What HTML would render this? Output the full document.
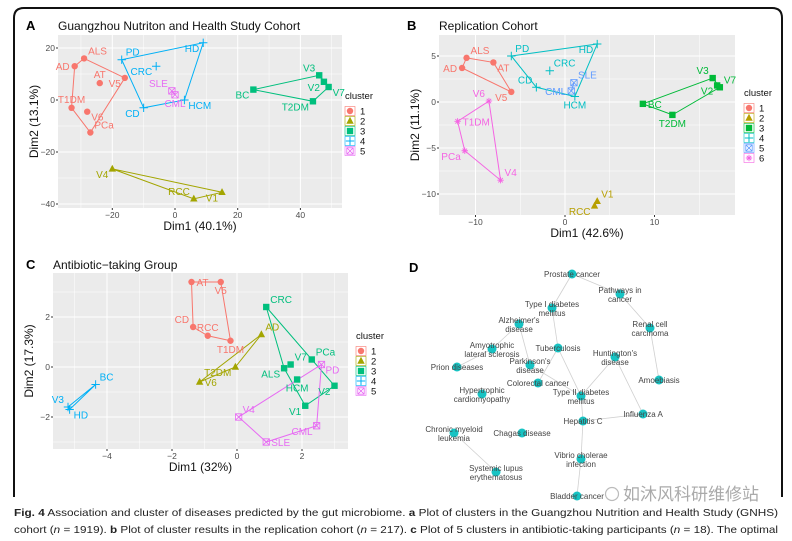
<!DOCTYPE html>
<html><head><meta charset="utf-8"><style>
html,body{margin:0;padding:0;background:#fff;}
svg{display:block;font-family:"Liberation Sans","Noto Sans CJK SC",sans-serif;}
</style></head><body>
<svg id="fig" width="792" height="541" viewBox="0 0 792 541" xmlns="http://www.w3.org/2000/svg">
<path d="M14,497 L14,18 Q14,8 24,8 L772,8 Q782,8 782,18 L782,497" fill="none" stroke="#111" stroke-width="2"/>
<g id="root"></g>
<g>
<circle cx="612" cy="494" r="6.5" fill="none" stroke="#bbb" stroke-width="1.2"/>
<text x="623" y="500" font-size="17" fill="#aaa" font-family="'Noto Sans CJK SC',sans-serif">如沐风科研维修站</text>
</g>
<text x="14" y="516" font-size="10.5" fill="#222" textLength="764" lengthAdjust="spacingAndGlyphs"><tspan font-weight="bold">Fig. 4</tspan> Association and cluster of diseases predicted by the gut microbiome. <tspan font-weight="bold">a</tspan> Plot of clusters in the Guangzhou Nutrition and Health Study (GNHS)</text>
<text x="14" y="533" font-size="10.5" fill="#222" textLength="764" lengthAdjust="spacingAndGlyphs">cohort (<tspan font-style="italic">n</tspan> = 1919). <tspan font-weight="bold">b</tspan> Plot of cluster results in the replication cohort (<tspan font-style="italic">n</tspan> = 217). <tspan font-weight="bold">c</tspan> Plot of 5 clusters in antibiotic-taking participants (<tspan font-style="italic">n</tspan> = 18). The optimal</text>
</svg>
<script>
// ---------- Panel A data ----------
const aNames=["ALS","AD","AT","V5","T1DM","V6","PCa","V4","RCC","V1","BC","V3","V2","V7","T2DM","PD","HD","CRC","HCM","CD","SLE","CML"];
const aX=[-29,-32,-24,-16,-33,-28,-27,-20,6,15,25,46,47.5,49,44,-17,9,-6,3,-10,-1,0];
const aY=[16,13,6.5,8.5,-3,-4.5,-12.5,-26.5,-38,-35.5,4,9.5,7,5,-0.5,15.5,22,13,0,-3,3.5,2];
const aCl=[1,1,1,1,1,1,1,2,2,2,3,3,3,3,3,4,4,4,4,4,5,5];
const aLab=["ra","l","a","lb","a","rb","ra","lb","la","lb","lb","la","lb","rb","lb","ra","lb","lb","rb","lb","la","b"];
const aHulls=[["ALS","V5","PCa","T1DM","AD"],["V4","RCC","V1"],["BC","V3","V7","T2DM"],["PD","HD","HCM","CD"],["SLE","CML"]];
const aXTicks=[-20,0,20,40];
const aYTicks=[20,0,-20,-40];
// ---------- Panel B data ----------
const bNames=["ALS","AD","AT","V5","RCC","V1","BC","V3","V2","V7","T2DM","PD","HD","CRC","CD","HCM","SLE","CML","V6","T1DM","PCa","V4"];
const bX=[-11,-11.5,-8,-6,3.3,3.6,8.7,16.5,17,17.3,12,-6,3.6,-1.7,-3.2,1.1,1,0.7,-8.5,-12,-11.2,-7.2];
const bY=[4.8,3.7,4.3,1.1,-11.3,-10.8,-0.2,2.6,1.8,1.6,-1.4,5,6.3,3.4,1.6,0.6,2.1,1.2,0.1,-2.1,-5.3,-8.5];
const bCl=[1,1,1,1,2,2,3,3,3,3,3,4,4,4,4,4,5,5,6,6,6,6];
const bLab=["ra","l","rb","lb","lb","ra","r","la","lb","ra","b","ra","lb","ra","la","b","ra","l","la","r","lb","ra"];
const bHulls=[["ALS","AT","V5","AD"],["RCC","V1"],["BC","V3","V7","T2DM"],["PD","HD","HCM","CD"],["SLE","CML"],["V6","V4","PCa","T1DM"]];
const bXTicks=[-10,0,10];
const bYTicks=[5,0,-5,-10];
// ---------- Panel C data ----------
const cNames=["AT","V5","CD","RCC","T1DM","AD","T2DM","V6","CRC","PCa","V7","ALS","HCM","V2","V1","BC","V3","HD","PD","CML","SLE","V4"];
const cX=[-1.4,-0.5,-1.35,-0.9,-0.2,0.75,-0.05,-1.15,0.9,2.3,1.65,1.45,1.85,3,2.1,-4.35,-5.2,-5.15,2.6,2.45,0.9,0.05];
const cY=[3.4,3.4,1.6,1.25,1.05,1.3,0,-0.6,2.4,0.3,0.1,-0.05,-0.5,-0.75,-1.55,-0.7,-1.6,-1.7,0.1,-2.35,-3,-2];
const cCl=[1,1,1,1,1,2,2,2,3,3,3,3,3,3,3,4,4,4,5,5,5,5];
const cLab=["r","b","la","a","b","ra","lb","r","ra","ra","ra","lb","b","lb","lb","ra","la","rb","rb","lb","r","ra"];
const cHulls=[["AT","V5","T1DM","RCC","CD"],["AD","T2DM","V6"],["CRC","V2","V1","ALS"],["BC","V3","HD"],["PD","CML","SLE","V4"]];
const cXTicks=[-4,-2,0,2];
const cYTicks=[2,0,-2];
// ---------- Panel D network ----------
const dNodes=["Prostate cancer","Pathways in|cancer","Type I diabetes|mellitus","Renal cell|carcinoma","Alzheimer's|disease","Tuberculosis","Amyotrophic|lateral sclerosis","Huntington's|disease","Prion diseases","Parkinson's|disease","Amoebiasis","Colorectal cancer","Type II diabetes|mellitus","Hypertrophic|cardiomyopathy","Influenza A","Hepatitis C","Chronic myeloid|leukemia","Chagas disease","Vibrio cholerae|infection","Systemic lupus|erythematosus","Bladder cancer"];
const dX=[572,620,552,650,519,558,492,615,457,530,659,538,581,482,643,583,454,522,581,496,577];
const dY=[274,294,308,328,324,348,349,357,367,365,380,383,396,394,414,421,433,433,459,472,496];
const dEdges=[[0,1],[0,2],[1,3],[3,10],[2,5],[5,11],[5,12],[4,6],[4,9],[6,8],[9,12],[7,12],[7,14],[14,15],[12,15],[15,18],[18,20],[16,19]];

const NS="http://www.w3.org/2000/svg";
const root=document.getElementById('root');
function mk(tag,attrs,parent){const e=document.createElementNS(NS,tag);for(const k in attrs)e.setAttribute(k,attrs[k]);(parent||root).appendChild(e);return e;}
const OFF={ra:[4,-4,'start'],rb:[4,9,'start'],la:[-4,-4,'end'],lb:[-4,9,'end'],a:[0,-5,'middle'],b:[0,12,'middle'],l:[-5,4,'end'],r:[5,4,'start']};

function marker(g,sh,x,y,col){
  const r=3.2;
  if(sh===1){mk('circle',{cx:x,cy:y,r:r,fill:col},g);}
  else if(sh===2){mk('polygon',{points:`${x},${y-r-1} ${x-r-0.5},${y+r-0.5} ${x+r+0.5},${y+r-0.5}`,fill:col},g);}
  else if(sh===3){mk('rect',{x:x-r,y:y-r,width:2*r,height:2*r,fill:col},g);}
  else if(sh===4){mk('path',{d:`M${x-r-1},${y}H${x+r+1}M${x},${y-r-1}V${y+r+1}`,stroke:col,'stroke-width':1,fill:'none'},g);}
  else if(sh===5){mk('path',{d:`M${x-r},${y-r}h${2*r}v${2*r}h${-2*r}zM${x-r},${y-r}L${x+r},${y+r}M${x+r},${y-r}L${x-r},${y+r}`,stroke:col,'stroke-width':0.8,fill:'none'},g);}
  else {mk('path',{d:`M${x-r},${y}H${x+r}M${x},${y-r}V${y+r}M${x-r*.7},${y-r*.7}L${x+r*.7},${y+r*.7}M${x+r*.7},${y-r*.7}L${x-r*.7},${y+r*.7}`,stroke:col,'stroke-width':0.9,fill:'none'},g);}
}

function panel(cfg){
  const {name,letter,title,px0,px1,py0,py1,sx,sy,names,X,Y,C,L,hulls,xt,yt,cols,xtitle,ytitle,legX,legY,tx,ty}=cfg;
  const g=mk('g',{});
  
  
  const bg=mk('rect',{x:px0,y:py0,width:px1-px0,height:py1-py0,fill:'#EBEBEB'},g);
  
  
  const xs=v=>sx[0]+v*sx[1], ys=v=>sy[0]-v*sy[1];
  const dx=xt[1]-xt[0], dy=yt[0]-yt[1];
  for(let v=xt[0]-dx*2;v<=xt[xt.length-1]+dx*2;v+=dx/2){const p=xs(v);if(p>px0&&p<px1)mk('line',{x1:p,x2:p,y1:py0,y2:py1,stroke:'#fff','stroke-width':(Math.abs((v-xt[0])/dx%1)<1e-6)?1:0.5},g);}
  for(let v=yt[yt.length-1]-dy*2;v<=yt[0]+dy*2;v+=dy/2){const p=ys(v);if(p>py0&&p<py1)mk('line',{x1:px0,x2:px1,y1:p,y2:p,stroke:'#fff','stroke-width':(Math.abs((v-yt[0])/dy%1)<1e-6)?1:0.5},g);}
  xt.forEach(v=>{const t=mk('text',{x:xs(v),y:py1+10,'font-size':8.5,fill:'#4D4D4D','text-anchor':'middle'},g);t.textContent=(v<0?'\u2212'+(-v):v);mk('line',{x1:xs(v),x2:xs(v),y1:py1,y2:py1+2,stroke:'#333'},g);});
  yt.forEach(v=>{const t=mk('text',{x:px0-3,y:ys(v)+3,'font-size':8.5,fill:'#4D4D4D','text-anchor':'end'},g);t.textContent=(v<0?'\u2212'+(-v):v);mk('line',{x1:px0-2,x2:px0,y1:ys(v),y2:ys(v),stroke:'#333'},g);});
  hulls.forEach((h,i)=>{const pts=h.map(n=>{const k=names.indexOf(n);return xs(X[k])+','+ys(Y[k]);}).join(' ');
    const pl=mk('polygon',{points:pts,fill:'none',stroke:cols[i],'stroke-width':1},g);});
  names.forEach((n,k)=>{const col=cols[C[k]-1];const x=xs(X[k]),y=ys(Y[k]);
    const pg=mk('g',{},g);
    marker(pg,C[k],x,y,col);
    const o=OFF[L[k]];const t=mk('text',{x:x+o[0],y:y+o[1],'font-size':10,fill:col,'text-anchor':o[2]},pg);t.textContent=n;});
  const lt=mk('text',{x:tx,y:ty,'font-size':13,'font-weight':'bold',fill:'#000'});lt.textContent=letter;
  const tt=mk('text',{x:px0,y:ty,'font-size':12,fill:'#111'});tt.textContent=title;
  const xtt=mk('text',{x:(px0+px1)/2,y:py1+22,'font-size':12,fill:'#111','text-anchor':'middle'},g);xtt.textContent=xtitle;
  const ytt=mk('text',{x:0,y:0,'font-size':12,fill:'#111','text-anchor':'middle',transform:`translate(${px0-20},${(py0+py1)/2}) rotate(-90)`},g);ytt.textContent=ytitle;
  const lg=mk('g',{},g);
  const lh=mk('text',{x:legX,y:legY,'font-size':9.5,fill:'#111'},lg);lh.textContent='cluster';
  cols.forEach((c,i)=>{const yy=legY+12+i*10;mk('rect',{x:legX,y:yy-4.5,width:10,height:9,fill:'#fff',stroke:c,'stroke-width':0.6},lg);marker(lg,i+1,legX+5,yy,c);
    const e=mk('text',{x:legX+15,y:yy+3.5,'font-size':9.5,fill:'#111'},lg);e.textContent=i+1;});
}
const pal5=["#F8766D","#A3A500","#00BF7D","#00B0F6","#E76BF3"];
const pal6=["#F8766D","#B79F00","#00BA38","#00BFC4","#619CFF","#F564E3"];
panel({name:'panel-a',letter:'A',title:'Guangzhou Nutriton and Health Study Cohort',px0:58,px1:342,py0:35,py1:208,sx:[175,3.135],sy:[100,2.6],names:aNames,X:aX,Y:aY,C:aCl,L:aLab,hulls:aHulls,xt:aXTicks,yt:aYTicks,cols:pal5,xtitle:'Dim1 (40.1%)',ytitle:'Dim2 (13.1%)',legX:345,legY:99,tx:26,ty:30});
panel({name:'panel-b',letter:'B',title:'Replication Cohort',px0:439,px1:735,py0:35,py1:215,sx:[565,8.95],sy:[102,9.2],names:bNames,X:bX,Y:bY,C:bCl,L:bLab,hulls:bHulls,xt:bXTicks,yt:bYTicks,cols:pal6,xtitle:'Dim1 (42.6%)',ytitle:'Dim2 (11.1%)',legX:744,legY:96,tx:407,ty:30});
panel({name:'panel-c',letter:'C',title:'Antibiotic\u2212taking Group',px0:53,px1:348,py0:273,py1:449,sx:[237,32.5],sy:[367,25],names:cNames,X:cX,Y:cY,C:cCl,L:cLab,hulls:cHulls,xt:cXTicks,yt:cYTicks,cols:pal5,xtitle:'Dim1 (32%)',ytitle:'Dim2 (17.3%)',legX:356,legY:339,tx:26,ty:269});

// Panel D
const dg=mk('g',{});


const dl=mk('text',{x:409,y:272,'font-size':13,'font-weight':'bold',fill:'#000'},dg);dl.textContent='D';
dEdges.forEach(e=>{const l=mk('line',{x1:dX[e[0]],y1:dY[e[0]],x2:dX[e[1]],y2:dY[e[1]],stroke:'#d0d0d0','stroke-width':0.8},dg);
  
  });
dNodes.forEach((n,i)=>{const ng=mk('g',{},dg);
  
  
  mk('circle',{cx:dX[i],cy:dY[i],r:4.5,fill:'#17C3C3'},ng);
  const parts=n.split('|');
  parts.forEach((p,j)=>{const t=mk('text',{x:dX[i],y:dY[i]+(parts.length===1?3:(j===0?-1:8)),'font-size':8,fill:'#444','text-anchor':'middle'},ng);t.textContent=p;});});
</script>
</body></html>
